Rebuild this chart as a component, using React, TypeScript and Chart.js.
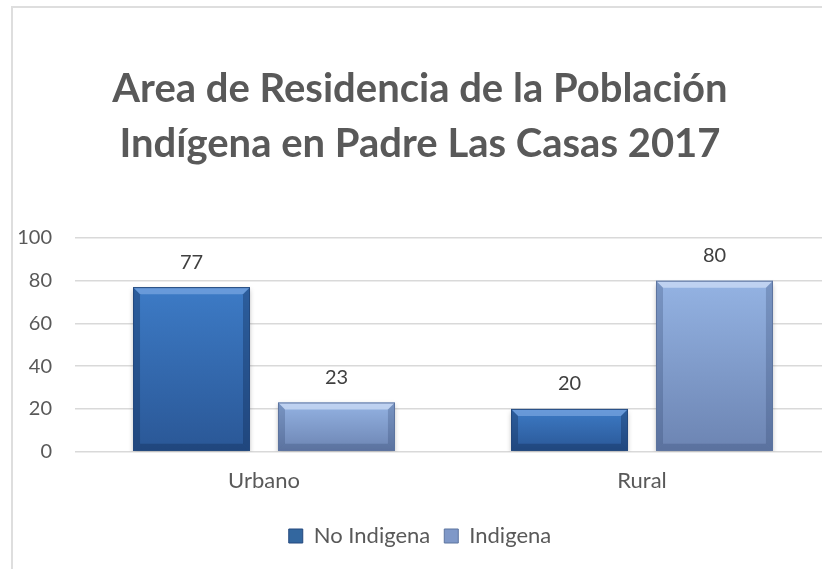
import React, { useEffect, useRef } from "react";
import { Chart, registerables } from "chart.js";
Chart.register(...registerables);

const categories = ["Urbano", "Rural"];
const seriesNames = ["No Indigena", "Indigena"];
const noIndigena = [77, 20];
const indigena = [23, 80];
const yMin = 0;
const yMax = 100;
const yStep = 20;
const titleLines = ["Area de Residencia de la Población", "Indígena en Padre Las Casas 2017"];

const FONT = "Lato, 'Open Sans', sans-serif";

const palettes = [
  { top: "#3d7bc6", bottom: "#2a5796", light: "rgba(140,180,235,0.55)", dark: "rgba(15,40,80,0.35)", legend: "#33679f", border: "#24497e" },
  { top: "#94b3e3", bottom: "#6c84b2", light: "rgba(220,232,252,0.6)", dark: "rgba(40,60,100,0.25)", legend: "#7f98c8", border: "#5d749f" },
];

function barGradient(ctx: any, p: any) {
  const chart = ctx.chart;
  const ys = chart.scales && chart.scales.y;
  if (!ys || !chart.chartArea || ctx.raw == null) return p.top;
  const t = ys.getPixelForValue(ctx.raw);
  const b = ys.getPixelForValue(0);
  if (!isFinite(t) || !isFinite(b) || t === b) return p.top;
  const g = chart.ctx.createLinearGradient(0, t, 0, b);
  g.addColorStop(0, p.top);
  g.addColorStop(1, p.bottom);
  return g;
}

const barDecor = {
  id: "barDecor",
  beforeDatasetsDraw(chart: any) {
    const c = chart.ctx;
    c.save();
    c.shadowColor = "rgba(0,0,0,0.28)";
    c.shadowBlur = 5;
    c.shadowOffsetY = 3;
  },
  afterDatasetsDraw(chart: any) {
    const c = chart.ctx;
    c.restore();
    chart.data.datasets.forEach((ds: any, di: number) => {
      const p = palettes[di];
      const meta = chart.getDatasetMeta(di);
      meta.data.forEach((el: any, i: number) => {
        const left = el.x - el.width / 2;
        const right = el.x + el.width / 2;
        const top = Math.min(el.y, el.base);
        const bottom = Math.max(el.y, el.base);
        const bv = Math.min(7, (bottom - top) / 3);
        c.save();
        c.fillStyle = p.light;
        c.beginPath();
        c.moveTo(left, top); c.lineTo(right, top); c.lineTo(right - bv, top + bv); c.lineTo(left + bv, top + bv);
        c.closePath(); c.fill();
        c.fillStyle = p.dark;
        c.beginPath();
        c.moveTo(left, top); c.lineTo(left + bv, top + bv); c.lineTo(left + bv, bottom - bv); c.lineTo(left, bottom);
        c.closePath(); c.fill();
        c.beginPath();
        c.moveTo(right, top); c.lineTo(right - bv, top + bv); c.lineTo(right - bv, bottom - bv); c.lineTo(right, bottom);
        c.closePath(); c.fill();
        c.beginPath();
        c.moveTo(left, bottom); c.lineTo(left + bv, bottom - bv); c.lineTo(right - bv, bottom - bv); c.lineTo(right, bottom);
        c.closePath(); c.fill();
        c.strokeStyle = p.border;
        c.lineWidth = 1;
        c.strokeRect(left + 0.5, top + 0.5, right - left - 1, bottom - top - 1);
        c.fillStyle = "#404040";
        c.font = `20px ${FONT}`;
        c.textAlign = "center";
        c.textBaseline = "middle";
        c.fillText(String(ds.data[i]), el.x, top - 25);
        c.restore();
      });
    });
  },
};

export default function App() {
  const ref = useRef<HTMLCanvasElement | null>(null);
  useEffect(() => {
    if (!ref.current) return;
    const chart = new Chart(ref.current, {
      type: "bar",
      data: {
        labels: categories,
        datasets: [
          {
            label: seriesNames[0],
            data: noIndigena,
            backgroundColor: (ctx: any) => barGradient(ctx, palettes[0]),
            borderWidth: 0,
            categoryPercentage: 0.767,
            barPercentage: 0.807,
          },
          {
            label: seriesNames[1],
            data: indigena,
            backgroundColor: (ctx: any) => barGradient(ctx, palettes[1]),
            borderWidth: 0,
            categoryPercentage: 0.767,
            barPercentage: 0.807,
          },
        ],
      },
      options: {
        responsive: false,
        animation: false,
        devicePixelRatio: 1,
        layout: { padding: { left: -4, right: 12, top: 0, bottom: 31 } },
        plugins: {
          title: {
            display: true,
            text: titleLines,
            color: "#595959",
            font: { family: FONT, size: 40, weight: "bold", lineHeight: 1.375 },
            padding: { top: 54, bottom: 66 },
          },
          legend: {
            position: "bottom",
            labels: {
              color: "#595959",
              font: { family: FONT, size: 22 },
              boxWidth: 14,
              boxHeight: 14,
              padding: 14,
              generateLabels: (ch: any) =>
                ch.data.datasets.map((d: any, i: number) => ({
                  text: d.label,
                  fillStyle: palettes[i].legend,
                  strokeStyle: palettes[i].border,
                  lineWidth: 1,
                  fontColor: "#595959",
                  datasetIndex: i,
                  hidden: false,
                })),
            },
          },
          tooltip: { enabled: false },
        },
        scales: {
          x: {
            grid: { display: false, drawTicks: false },
            border: { display: false },
            ticks: { color: "#595959", font: { family: FONT, size: 22 }, padding: 16 },
            afterFit: (s: any) => { s.height += 1; },
          },
          y: {
            min: yMin,
            max: yMax,
            grid: { color: "#d9d9d9", lineWidth: 1.5, drawTicks: false },
            border: { display: false },
            ticks: { stepSize: yStep, color: "#595959", font: { family: FONT, size: 20 }, padding: 23 },
            afterFit: (s: any) => { s.width = 66; },
          },
        },
      },
      plugins: [barDecor],
    } as any);
    return () => chart.destroy();
  }, []);
  return (
    <div style={{ position: "fixed", left: 0, top: 0, width: 822, height: 569, overflow: "hidden", background: "#fff" }}>
      <div style={{ position: "absolute", left: 11, top: 6, width: 860, height: 620, border: "2px solid #dedede", boxSizing: "border-box" }} />
      <canvas ref={ref} width={830} height={580} style={{ position: "absolute", left: 13, top: 8, width: 830, height: 580 }} />
    </div>
  );
}
